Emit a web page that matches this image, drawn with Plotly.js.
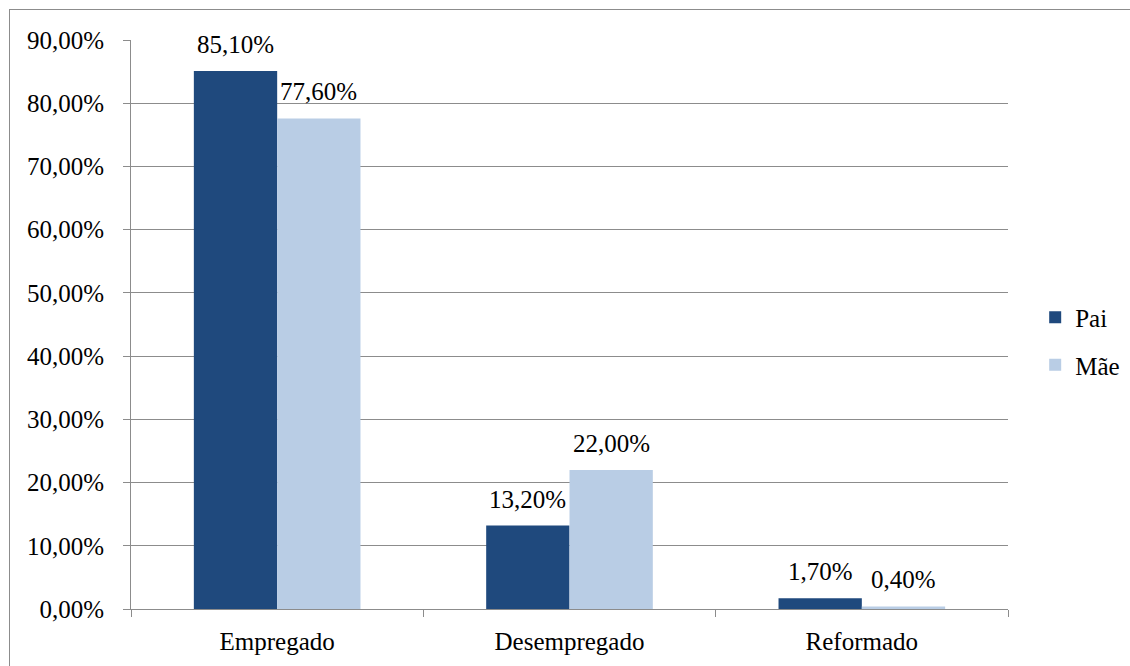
<!DOCTYPE html>
<html>
<head>
<meta charset="utf-8">
<script src="https://cdn.plot.ly/plotly-3.0.1.min.js"></script>
<style>
html,body{margin:0;padding:0;background:#fff;}
#wrap{position:relative;width:1130px;height:666px;overflow:hidden;}
#chart{width:1130px;height:666px;}
#frame{position:absolute;left:9px;top:9px;width:1140px;height:700px;border:1px solid #8c8c8c;pointer-events:none;}
</style>
</head>
<body>
<div id="wrap"><div id="chart"></div><div id="frame"></div></div>
<script>
const categories = ["Empregado", "Desempregado", "Reformado"];
const pai = [0.851, 0.132, 0.017];
const mae = [0.776, 0.220, 0.004];
const seriesNames = ["Pai", "Mãe"];
const seriesColors = ["#1F497D", "#B9CDE5"];

const font = {family: "Liberation Serif", size: 25, color: "#000"};

const W = 1130, H = 666;
const margin = {l: 131, r: 122, t: 40, b: 57, autoexpand: false};
const bargap = 0.43;

const traces = [pai, mae].map((vals, s) => ({
  type: "bar", name: seriesNames[s], legendgroup: "g" + s, x: categories, y: vals,
  marker: {color: seriesColors[s]}, hoverinfo: "none"
}));

// data labels above bars, positioned from the data values
const plotW = W - margin.l - margin.r;
const barW = plotW / categories.length * (1 - bargap) / 2;
const annotations = [];
[pai, mae].forEach((vals, s) => {
  vals.forEach((v, i) => {
    annotations.push({
      x: categories[i], y: v, xref: "x", yref: "y",
      text: (v * 100).toFixed(2).replace(".", ",") + "%",
      showarrow: false, yanchor: "bottom", xanchor: "center",
      xshift: (s === 0 ? -1 : 1) * barW / 2, yshift: 11,
      font: font
    });
  });
});

const layout = {
  width: W, height: H,
  margin: margin,
  paper_bgcolor: "#fff", plot_bgcolor: "#fff",
  separators: ",.",
  font: font,
  barmode: "group", bargap: bargap, bargroupgap: 0,
  showlegend: true,
  legend: {x: 1.031, y: 0.471, xanchor: "left", yanchor: "middle", font: font, itemwidth: 30, tracegroupgap: 12},
  annotations: annotations,
  xaxis: {
    type: "category", tickson: "boundaries", ticks: "outside", ticklen: 7, tickcolor: "#8c8c8c",
    showline: true, linecolor: "#8c8c8c", linewidth: 1, showgrid: false, zeroline: false,
    tickfont: font, ticklabelstandoff: 10, automargin: false
  },
  yaxis: {
    range: [0, 0.9], dtick: 0.1, tickformat: ".2%", ticks: "outside", ticklen: 7, tickcolor: "#8c8c8c",
    showline: true, linecolor: "#8c8c8c", linewidth: 1, showgrid: true, gridcolor: "#8c8c8c", gridwidth: 1,
    zeroline: false, tickfont: font, ticklabelstandoff: 14, automargin: false
  }
};

Plotly.newPlot("chart", traces, layout, {displayModeBar: false, staticPlot: true});
</script>
</body>
</html>
